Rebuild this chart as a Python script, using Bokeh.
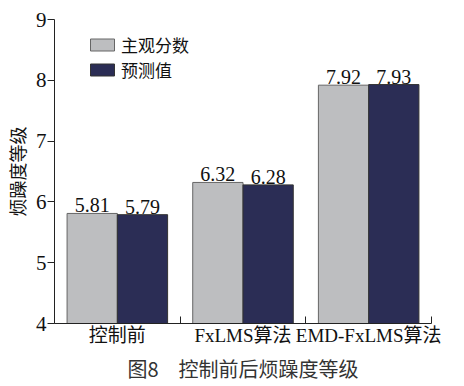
from bokeh.plotting import figure
from bokeh.models import Range1d, FixedTicker, ColumnDataSource, Legend, LegendItem, Title
from bokeh.core.properties import value
from bokeh.embed import file_html
from bokeh.resources import INLINE
import numpy as np

categories = ["控制前", "FxLMS算法", "EMD-FxLMS算法"]
subjective = [5.81, 6.32, 7.92]
predicted = [5.79, 6.28, 7.93]
series_names = ["主观分数", "预测值"]
y_ticks = [4, 5, 6, 7, 8, 9]
y_label = "烦躁度等级"
caption = "图8　控制前后烦躁度等级"

GREY = "#bdbec0"
NAVY = "#2b2d55"
SERIF = "'Liberation Serif', 'Noto Sans CJK SC'"
CJK = "Noto Sans CJK SC"

idx = np.arange(len(categories))
centers = idx + 0.5
bw = 0.4

p = figure(width=464, height=386, output_backend="svg", toolbar_location=None,
           x_range=Range1d(0, len(categories)), y_range=Range1d(y_ticks[0], y_ticks[-1]),
           min_border_left=54, min_border_right=33, min_border_top=19, min_border_bottom=62)
p.outline_line_color = None
p.xgrid.visible = False
p.ygrid.visible = False
p.background_fill_color = "white"
p.border_fill_color = "white"

src1 = ColumnDataSource(dict(x=centers - bw / 2, top=subjective,
                             label=["%.2f" % v for v in subjective]))
src2 = ColumnDataSource(dict(x=centers + bw / 2, top=predicted,
                             label=["%.2f" % v for v in predicted]))

r1 = p.vbar(x="x", top="top", bottom=y_ticks[0], width=bw, source=src1,
            fill_color=GREY, line_color="#666666", line_width=1)
r2 = p.vbar(x="x", top="top", bottom=y_ticks[0], width=bw, source=src2,
            fill_color=NAVY, line_color="#333333", line_width=1)

for s in (src1, src2):
    p.text(x="x", y="top", text="label", source=s, text_align="center",
           text_baseline="bottom", y_offset=-1, text_font=value("Liberation Serif"),
           text_font_size="20px", text_color="#111111")

# axes
xa = p.xaxis[0]
xa.ticker = FixedTicker(ticks=list(centers), minor_ticks=list(range(len(categories) + 1)))
xa.major_label_overrides = {float(c): cat for c, cat in zip(centers, categories)}
xa.major_tick_line_color = None
xa.major_tick_in = 0
xa.major_tick_out = 0
xa.minor_tick_in = 7
xa.minor_tick_out = 0
xa.minor_tick_line_color = "#222222"
xa.axis_line_color = "#222222"
xa.major_label_text_font = SERIF
xa.major_label_text_font_size = "19px"
xa.major_label_text_color = "#111111"
xa.major_label_standoff = 1

ya = p.yaxis[0]
ya.ticker = FixedTicker(ticks=y_ticks)
ya.major_tick_in = 0
ya.major_tick_out = 7
ya.minor_tick_line_color = None
ya.axis_line_color = "#222222"
ya.major_tick_line_color = "#222222"
ya.major_label_text_font = "Liberation Serif"
ya.major_label_text_font_size = "21px"
ya.major_label_text_color = "#111111"
ya.major_label_standoff = 1
ya.axis_label = y_label
ya.axis_label_text_font = CJK
ya.axis_label_text_font_size = "18px"
ya.axis_label_text_font_style = "normal"
ya.axis_label_text_color = "#111111"
ya.axis_label_standoff = 3

for name, r, y in ((series_names[0], r1, 266), (series_names[1], r2, 241)):
    lg = Legend(items=[LegendItem(label=name, renderers=[r])],
                location=(33, y), margin=0, padding=0, spacing=0,
                glyph_width=30, glyph_height=15, label_standoff=4,
                label_text_font=CJK, label_text_font_size="17px",
                label_text_color="#111111", label_height=15,
                border_line_color=None, background_fill_alpha=0)
    p.add_layout(lg)

title = Title(text=caption, align="center", text_font=CJK, text_font_size="20px",
              text_font_style="normal", text_color="#333333", standoff=7)
p.add_layout(title, "below")

open("out.html", "w").write(file_html(p, INLINE))
